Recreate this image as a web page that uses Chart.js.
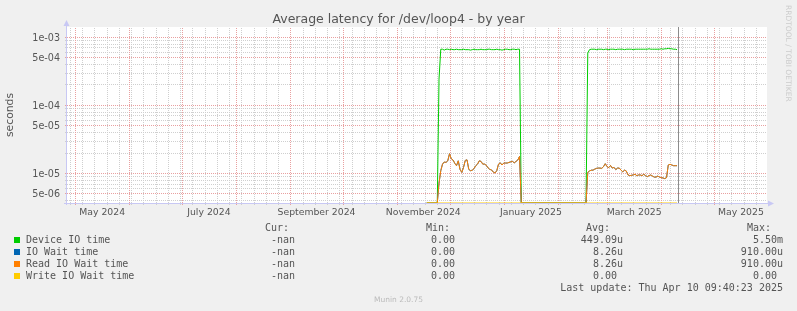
<!DOCTYPE html>
<html>
<head>
<meta charset="utf-8">
<script src="https://cdn.jsdelivr.net/npm/chart.js@4.4.1/dist/chart.umd.min.js"></script>
<style>
  body { margin: 0; background: #f0f0f0; }
  #wrap { position: relative; width: 797px; height: 311px; overflow: hidden; }
  #chart { position: absolute; left: 0; top: 0; }
  .t { position: absolute; font: 10px "DejaVu Sans Mono", monospace; color: #555; white-space: pre; line-height: 12px; }
  .r { text-align: right; }
  .sq { position: absolute; width: 6px; height: 6px; }
  #title { position: absolute; left: 0; width: 797px; top: 11px; text-align: center; font: 12.5px "DejaVu Sans", sans-serif; color: #555; line-height: 16px; }
  #munin { position: absolute; left: 0; width: 797px; top: 295px; text-align: center; font: 7.5px "DejaVu Sans", sans-serif; color: #bbb; }
  #rrd { position: absolute; left: 784px; top: 5px; writing-mode: vertical-rl; font: 7.5px "DejaVu Sans", sans-serif; color: #ccc; white-space: nowrap; }
</style>
</head>
<body>
<div id="wrap">
  <canvas id="chart" width="797" height="311"></canvas>
  <div id="title">Average latency for /dev/loop4 - by year</div>
  <div id="legend"></div>
  <div id="munin">Munin 2.0.75</div>
  <div id="rrd">RRDTOOL / TOBI OETIKER</div>
</div>
<script>
// ---------- data ----------
const DAY = 86400000;

const legendNames = ['Device IO time', 'IO Wait time', 'Read IO Wait time', 'Write IO Wait time'];
const legendColors = ['#00cc00', '#0066b3', '#ff8000', '#ffcc00'];
const curValues = ['-nan ', '-nan ', '-nan ', '-nan '];
const minValues = ['0.00 ', '0.00 ', '0.00 ', '0.00 '];
const avgValues = ['449.09u', '8.26u', '8.26u', '0.00 '];
const maxValues = ['5.50m', '910.00u', '910.00u', '0.00 '];
const lastUpdate = 'Last update: Thu Apr 10 09:40:23 2025';

// daily averages, seconds (0 = idle, pinned to the axis floor on the log scale)
const zeroStart = '2024-11-18';
const seg1Start = '2024-11-25';
const seg2Start = '2025-02-18';
const nowTime = '2025-04-10T09:40:23Z';

const deviceSeg1 = [2.4e-4, 6.6e-4, 6.6e-4, 6.4e-4, 6.6e-4, 6.6e-4, 6.5e-4, 6.6e-4, 6.5e-4, 6.5e-4,
  6.6e-4, 6.5e-4, 6.5e-4, 6.5e-4, 6.6e-4, 6.5e-4, 6.5e-4, 6.5e-4, 6.4e-4, 6.5e-4,
  6.6e-4, 6.5e-4, 6.5e-4, 6.5e-4, 6.6e-4, 6.5e-4, 6.5e-4, 6.5e-4, 6.6e-4, 6.6e-4,
  6.5e-4, 6.5e-4, 6.5e-4, 6.6e-4, 6.5e-4, 6.5e-4, 6.4e-4, 6.5e-4, 6.6e-4, 6.6e-4,
  6.5e-4, 6.5e-4, 6.6e-4, 6.6e-4, 6.5e-4, 6.6e-4, 6.6e-4];
const readSeg1 = [7.1e-6, 1.08e-5, 1.35e-5, 1.45e-5, 1.43e-5, 1.51e-5, 1.92e-5, 1.62e-5, 1.55e-5, 1.39e-5,
  1.28e-5, 1.51e-5, 1.13e-5, 1.02e-5, 1.21e-5, 1.53e-5, 1.56e-5, 1.13e-5, 1.08e-5, 1.10e-5,
  1.16e-5, 1.28e-5, 1.35e-5, 1.51e-5, 1.48e-5, 1.35e-5, 1.35e-5, 1.30e-5, 1.19e-5, 1.13e-5,
  1.11e-5, 1.03e-5, 1.00e-5, 1.08e-5, 1.35e-5, 1.41e-5, 1.31e-5, 1.40e-5, 1.40e-5, 1.40e-5,
  1.43e-5, 1.46e-5, 1.48e-5, 1.41e-5, 1.48e-5, 1.55e-5, 1.75e-5];

const deviceSeg2 = [5.8e-4, 6.5e-4, 6.6e-4, 6.6e-4, 6.6e-4, 6.5e-4, 6.6e-4, 6.6e-4, 6.6e-4, 6.5e-4,
  6.6e-4, 6.6e-4, 6.5e-4, 6.6e-4, 6.6e-4, 6.6e-4, 6.5e-4, 6.6e-4, 6.6e-4, 6.6e-4,
  6.6e-4, 6.5e-4, 6.6e-4, 6.6e-4, 6.6e-4, 6.6e-4, 6.5e-4, 6.6e-4, 6.6e-4, 6.6e-4,
  6.6e-4, 6.6e-4, 6.6e-4, 6.6e-4, 6.6e-4, 6.7e-4, 6.6e-4, 6.6e-4, 6.6e-4, 6.6e-4,
  6.6e-4, 6.6e-4, 6.7e-4, 6.6e-4, 6.7e-4, 6.7e-4, 6.8e-4, 6.7e-4, 6.7e-4, 6.6e-4,
  6.6e-4, 6.5e-4];
const readSeg2 = [1.02e-5, 1.07e-5, 1.10e-5, 1.10e-5, 1.14e-5, 1.17e-5, 1.18e-5, 1.18e-5, 1.17e-5, 1.24e-5,
  1.37e-5, 1.24e-5, 1.20e-5, 1.29e-5, 1.18e-5, 1.21e-5, 1.12e-5, 1.18e-5, 1.18e-5, 1.10e-5,
  1.04e-5, 1.10e-5, 1.07e-5, 9.35e-6, 9.14e-6, 9.25e-6, 9.35e-6, 9.57e-6, 9.14e-6, 9.35e-6,
  9.35e-6, 9.14e-6, 9.57e-6, 9.14e-6, 8.83e-6, 9.14e-6, 9.35e-6, 9.0e-6, 8.7e-6, 8.7e-6,
  9.0e-6, 8.7e-6, 8.55e-6, 8.45e-6, 8.27e-6, 8.55e-6, 1.31e-5, 1.34e-5, 1.31e-5, 1.28e-5,
  1.28e-5, 1.28e-5];

// axes
const xStart = '2024-04-26T10:00:00Z';
const xDays = 400;
const yMin = 3.62e-6;
const yMax = 1.4e-3;
const yTickValues = [1e-3, 5e-4, 1e-4, 5e-5, 1e-5, 5e-6];
const yTickLabels = ['1e-03', '5e-04', '1e-04', '5e-05', '1e-05', '5e-06'];
const yMinorValues = [4e-6, 6e-6, 7e-6, 8e-6, 9e-6, 2e-5, 3e-5, 4e-5, 6e-5, 7e-5, 8e-5, 9e-5,
  2e-4, 3e-4, 4e-4, 6e-4, 7e-4, 8e-4, 9e-4];
const monthLabelMonths = ['2024-05', '2024-07', '2024-09', '2024-11', '2025-01', '2025-03', '2025-05'];
const monthLabels = ['May 2024', 'July 2024', 'September 2024', 'November 2024', 'January 2025', 'March 2025', 'May 2025'];
const firstWeek = '2024-04-28';

// ---------- helpers ----------
const d = s => Date.parse(s.length === 10 ? s + 'T00:00:00Z' : s);
const xMin = d(xStart);
const xMax = xMin + xDays * DAY;
const floor = v => (v === 0 ? yMin : v);

function seg(start, values) {
  return values.map((v, i) => ({ x: d(start) + i * DAY, y: floor(v) }));
}
function series(s1, s2) {
  return [
    { x: d(zeroStart), y: floor(0) },
    { x: d(seg1Start) - DAY, y: floor(0) },
    ...seg(seg1Start, s1),
    { x: d(seg1Start) + s1.length * DAY, y: floor(0) },
    { x: d(seg2Start) - DAY, y: floor(0) },
    ...seg(seg2Start, s2)
  ];
}
const writeData = [{ x: d(zeroStart), y: floor(0) }, { x: d(seg2Start) + (readSeg2.length - 1) * DAY, y: floor(0) }];

// x grid: weekly minor, monthly major; labels at mid-month
const monthStarts = [];
for (let y = 2024, m = 4; ; m++) {
  if (m > 11) { m = 0; y++; }
  const t = Date.UTC(y, m, 1);
  if (t > xMax) break;
  monthStarts.push(t);
}
const weekTicks = [];
for (let t = d(firstWeek); t <= xMax; t += 7 * DAY) {
  if (!monthStarts.includes(t)) weekTicks.push(t);
}
const labelTicks = monthLabelMonths.map(s => {
  const [y, m] = s.split('-').map(Number);
  return (Date.UTC(y, m - 1, 1) + Date.UTC(y, m, 1)) / 2;
});

const RED = '#e9a0a0';
const GRAY = '#cfcfcf';
const AXIS = '#c8c8f4';
const FG = '#555';
Chart.defaults.font.family = 'DejaVu Sans';

// rrdtool-like canvas, dotted grid, now-marker and arrowed axes
const rrdPlugin = {
  id: 'rrd',
  beforeDraw(chart) {
    const { ctx, chartArea: a } = chart;
    ctx.save();
    ctx.fillStyle = '#fff';
    ctx.fillRect(a.left, a.top, a.right - a.left, a.bottom - a.top);
    ctx.restore();
  },
  beforeDatasetsDraw(chart) {
    const { ctx, chartArea: a } = chart;
    const xs = chart.scales.x, ys = chart.scales.y;
    const vline = (v, color) => {
      const px = Math.round(xs.getPixelForValue(v)) + 0.5;
      if (px < a.left || px > a.right) return;
      ctx.strokeStyle = color;
      ctx.beginPath();
      ctx.moveTo(px, a.bottom + 2);
      ctx.lineTo(px, a.top);
      ctx.stroke();
    };
    const hline = (v, color) => {
      const py = Math.round(ys.getPixelForValue(v)) + 0.5;
      if (py < a.top || py > a.bottom) return;
      ctx.strokeStyle = color;
      ctx.beginPath();
      ctx.moveTo(a.left - 2, py);
      ctx.lineTo(a.right, py);
      ctx.stroke();
    };
    ctx.save();
    ctx.lineWidth = 1;
    ctx.setLineDash([1, 1]);
    weekTicks.forEach(v => vline(v, GRAY));
    yMinorValues.forEach(v => hline(v, GRAY));
    monthStarts.forEach(v => vline(v, RED));
    yTickValues.forEach(v => hline(v, RED));
    ctx.setLineDash([]);

    const nx = Math.round(xs.getPixelForValue(d(nowTime))) + 0.5;
    ctx.strokeStyle = '#8c8c8c';
    ctx.beginPath();
    ctx.moveTo(nx, a.top);
    ctx.lineTo(nx, a.bottom);
    ctx.stroke();

    ctx.strokeStyle = AXIS;
    ctx.fillStyle = AXIS;
    ctx.beginPath();
    ctx.moveTo(a.left - 0.5, a.bottom + 2);
    ctx.lineTo(a.left - 0.5, a.top - 3);
    ctx.moveTo(a.left - 3, a.bottom + 0.5);
    ctx.lineTo(a.right + 3, a.bottom + 0.5);
    ctx.stroke();
    ctx.beginPath();
    ctx.moveTo(a.left - 3.5, a.top - 1);
    ctx.lineTo(a.left + 2.5, a.top - 1);
    ctx.lineTo(a.left - 0.5, a.top - 7);
    ctx.closePath();
    ctx.fill();
    ctx.beginPath();
    ctx.moveTo(a.right + 1, a.bottom - 2.5);
    ctx.lineTo(a.right + 1, a.bottom + 3.5);
    ctx.lineTo(a.right + 7, a.bottom + 0.5);
    ctx.closePath();
    ctx.fill();
    ctx.restore();
  }
};

new Chart(document.getElementById('chart'), {
  type: 'line',
  data: {
    datasets: [
      { label: legendNames[0], data: series(deviceSeg1, deviceSeg2), borderColor: legendColors[0], order: 4 },
      { label: legendNames[1], data: series(readSeg1, readSeg2), borderColor: legendColors[1], order: 3 },
      { label: legendNames[2], data: series(readSeg1, readSeg2), borderColor: legendColors[2], order: 2 },
      { label: legendNames[3], data: writeData, borderColor: legendColors[3], order: 1 }
    ]
  },
  options: {
    responsive: false,
    animation: false,
    elements: { point: { radius: 0 }, line: { borderWidth: 1, tension: 0 } },
    layout: { padding: { left: 0, right: 30, top: 27, bottom: 0 } },
    plugins: {
      legend: { display: false },
      tooltip: { enabled: false },
      title: { display: false }
    },
    scales: {
      x: {
        type: 'linear',
        min: xMin,
        max: xMax,
        afterBuildTicks: s => { s.ticks = labelTicks.map(v => ({ value: v })); },
        afterFit: s => { s.height = 108; },
        ticks: {
          autoSkip: false,
          maxRotation: 0,
          color: FG,
          font: { size: 9.3 },
          padding: 4,
          callback: v => {
            const i = labelTicks.indexOf(v);
            return i >= 0 ? monthLabels[i] : '';
          }
        },
        grid: { display: false, drawTicks: false },
        border: { display: false }
      },
      y: {
        type: 'logarithmic',
        min: yMin,
        max: yMax,
        afterBuildTicks: s => { s.ticks = yTickValues.map(v => ({ value: v })); },
        afterFit: s => { s.width = 67; },
        ticks: {
          autoSkip: false,
          color: FG,
          font: { size: 9.6 },
          padding: 7,
          labelOffset: 1.5,
          callback: v => {
            const i = yTickValues.indexOf(v);
            return i >= 0 ? yTickLabels[i] : '';
          }
        },
        grid: { display: false, drawTicks: false },
        border: { display: false },
        title: {
          display: true,
          text: 'seconds',
          color: FG,
          font: { size: 10.8 },
          padding: { top: 4, bottom: 0 }
        }
      }
    }
  },
  plugins: [rrdPlugin]
});

// ---------- legend ----------
const legend = document.getElementById('legend');
function addText(text, left, centerY, right) {
  const el = document.createElement('div');
  el.className = 't' + (right ? ' r' : '');
  el.textContent = text;
  el.style.top = (centerY - 6) + 'px';
  if (right) { el.style.right = (797 - right) + 'px'; } else { el.style.left = left + 'px'; }
  legend.appendChild(el);
}
const headerY = 227.7;
const rowY = [240.3, 252.2, 264, 276];
addText('Cur:', 265, headerY);
addText('Min:', 426, headerY);
addText('Avg:', 586, headerY);
addText('Max:', 747, headerY);
legendNames.forEach((name, i) => {
  const sq = document.createElement('div');
  sq.className = 'sq';
  sq.style.left = '14px';
  sq.style.top = (rowY[i] - 3) + 'px';
  sq.style.background = legendColors[i];
  legend.appendChild(sq);
  addText(name, 26, rowY[i]);
  addText(curValues[i], 0, rowY[i], 301);
  addText(minValues[i], 0, rowY[i], 461);
  addText(avgValues[i], 0, rowY[i], 623);
  addText(maxValues[i], 0, rowY[i], 783);
});
addText(lastUpdate, 0, 288, 783);
</script>
</body>
</html>
